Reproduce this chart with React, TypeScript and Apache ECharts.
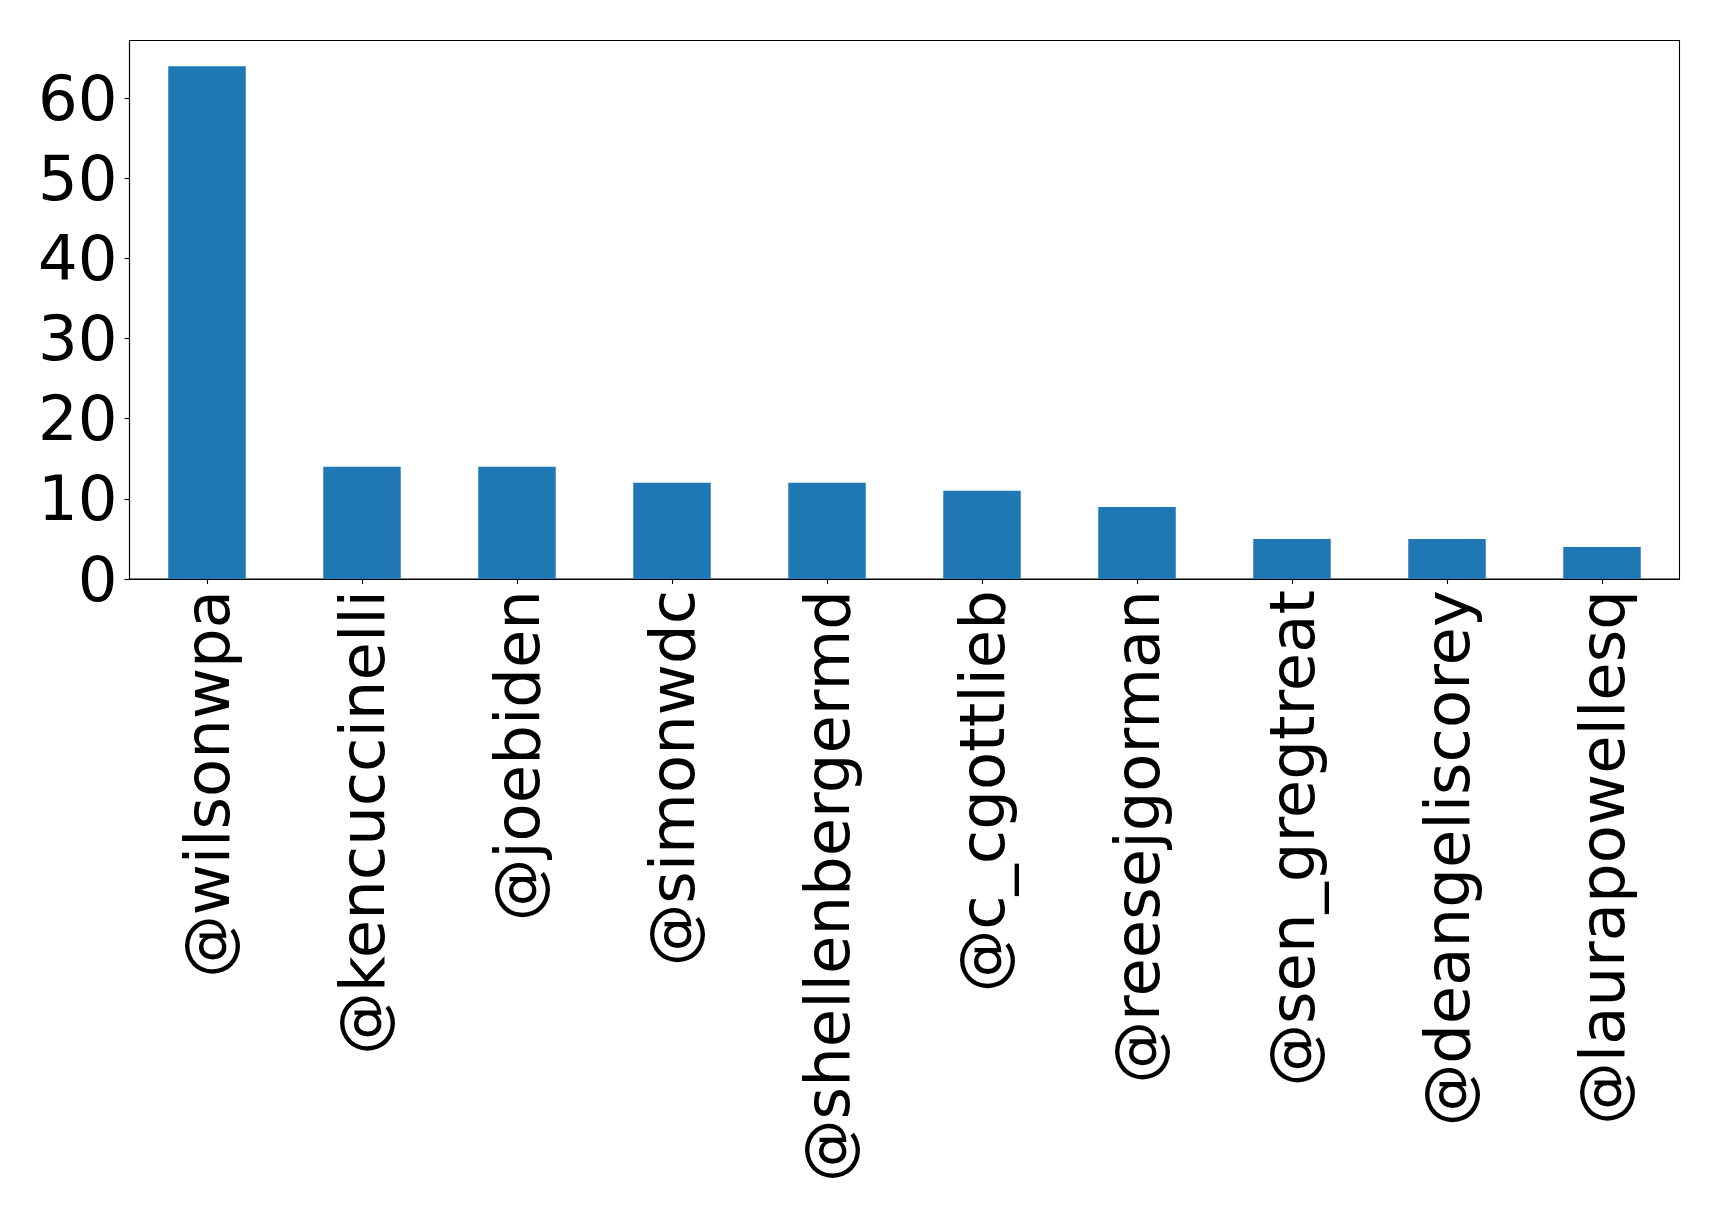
import React, { useEffect, useRef } from "react";
import * as echarts from "echarts";

const categories = [
  "@wilsonwpa",
  "@kencuccinelli",
  "@joebiden",
  "@simonwdc",
  "@shellenbergermd",
  "@c_cgottlieb",
  "@reesejgorman",
  "@sen_gregtreat",
  "@deangeliscorey",
  "@laurapowellesq",
];
const counts = [64, 14, 14, 12, 12, 11, 9, 5, 5, 4];
const yTicks = [0, 10, 20, 30, 40, 50, 60];

export default function App() {
  const ref = useRef<HTMLDivElement>(null);
  useEffect(() => {
    const chart = echarts.init(ref.current!, null, { renderer: "svg" });
    const font = "DejaVu Sans";
    chart.setOption({
      animation: false,
      backgroundColor: "#ffffff",
      grid: {
        left: 129.5,
        right: 39.5,
        top: 40.5,
        bottom: 641,
        containLabel: false,
        show: true,
        borderColor: "#000000",
        borderWidth: 1.1,
        backgroundColor: "transparent",
      },
      xAxis: {
        type: "category",
        data: categories,
        axisLine: { show: true, lineStyle: { color: "#000", width: 1.1 } },
        axisTick: { show: true, alignWithLabel: true, length: 5, lineStyle: { color: "#000", width: 1.1 } },
        axisLabel: {
          rotate: 90,
          margin: 11,
          fontSize: 62.5,
          fontFamily: font,
          color: "#000",
          interval: 0,
        },
        splitLine: { show: false },
      },
      yAxis: {
        type: "value",
        min: 0,
        max: 67.2,
        interval: 10,
        axisLine: { show: true, lineStyle: { color: "#000", width: 1.1 } },
        axisTick: { show: true, length: 5, lineStyle: { color: "#000", width: 1.1 }, customValues: yTicks },
        axisLabel: {
          margin: 12,
          fontSize: 62.5,
          fontFamily: font,
          color: "#000",
          customValues: yTicks,
        },
        splitLine: { show: false },
      },
      series: [
        {
          type: "bar",
          data: counts,
          barWidth: "50%",
          itemStyle: { color: "#1f77b4" },
        },
      ],
    });
    return () => chart.dispose();
  }, []);
  return (
    <div
      ref={ref}
      style={{ position: "absolute", left: 0, top: 0, width: 1719, height: 1220 }}
    />
  );
}
